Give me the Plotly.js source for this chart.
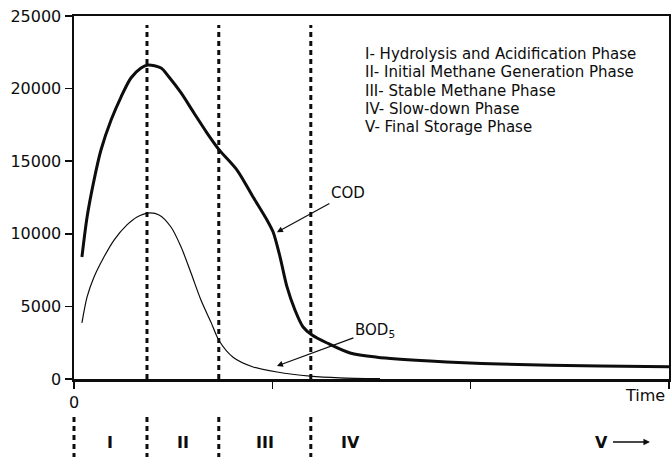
<!DOCTYPE html>
<html>
<head>
<meta charset="utf-8">
<script src="https://cdn.plot.ly/plotly-3.0.1.min.js"></script>
<style>html,body{margin:0;padding:0;background:#fff;}#chart{width:671px;height:457px;}</style>
</head>
<body>
<div id="chart"></div>
<script>
// ---- data (time in arbitrary units, concentration in mg/L) ----
var codX = [0.040, 0.066, 0.101, 0.136, 0.187, 0.237, 0.287, 0.338, 0.373, 0.439, 0.479, 0.540, 0.605, 0.671, 0.731, 0.822, 0.903, 0.973, 1.004, 1.039, 1.074, 1.114, 1.155, 1.200, 1.276, 1.392, 1.528, 1.795, 2.148, 2.653, 3.0];
var codY = [8400, 11160, 13700, 15770, 17840, 19420, 20730, 21420, 21630, 21420, 20800, 19700, 18320, 16940, 15800, 14390, 12530, 10950, 10120, 8400, 6340, 4750, 3580, 3030, 2480, 1790, 1500, 1240, 1030, 900, 850];
var bodX = [0.040, 0.066, 0.101, 0.151, 0.202, 0.267, 0.318, 0.373, 0.429, 0.489, 0.540, 0.590, 0.640, 0.691, 0.731, 0.802, 0.903, 1.024, 1.190, 1.341, 1.543];
var bodY = [3860, 5650, 7020, 8400, 9570, 10610, 11160, 11430, 11300, 10470, 9090, 7300, 5440, 3900, 2650, 1500, 830, 480, 200, 80, 20];
var phaseBounds = [0, 0.368, 0.730, 1.194];
var phaseNames = ["I", "II", "III", "IV", "V"];
var phaseLabelX = [0.184, 0.549, 0.962, 1.392, 2.663];
var phaseDescriptions = [
  "I- Hydrolysis and Acidification Phase",
  "II- Initial Methane Generation Phase",
  "III- Stable Methane Phase",
  "IV- Slow-down Phase",
  "V- Final Storage Phase"
];
var xMax = 3;
var xMinorTicks = [1, 2, 3];
var yTicks = [0, 5000, 10000, 15000, 20000, 25000];

var FONT = "DejaVu Sans, Liberation Sans, Arial, sans-serif";
var INK = "#0d0d0d";

var traces = [
  {x: codX, y: codY, type: "scatter", mode: "lines", name: "COD",
   line: {color: INK, width: 3, shape: "spline", smoothing: 0.8}, hoverinfo: "skip"},
  {x: bodX, y: bodY, type: "scatter", mode: "lines", name: "BOD5",
   line: {color: INK, width: 1.2, shape: "spline", smoothing: 0.8}, hoverinfo: "skip"}
];

var shapes = [];
// phase boundary dashed lines inside the plot
phaseBounds.slice(1).forEach(function (b) {
  shapes.push({type: "line", xref: "x", yref: "paper", x0: b, x1: b, y0: 0, y1: 0.975,
    line: {color: INK, width: 3, dash: "5px,4px"}});
});
// phase markers below the axis
phaseBounds.forEach(function (b) {
  shapes.push({type: "line", xref: "paper", yref: "paper", x0: b / xMax, x1: b / xMax, y0: -0.105, y1: -0.215,
    line: {color: INK, width: 3, dash: "5px,4px"}});
});

var annotations = [];
phaseDescriptions.forEach(function (t, i) {
  annotations.push({text: t, xref: "paper", yref: "paper", x: 0.4857, y: 0.895 - i * 0.0503,
    xanchor: "left", yanchor: "middle", showarrow: false,
    font: {family: FONT, size: 15, color: INK}});
});
phaseNames.forEach(function (t, i) {
  if (i < phaseNames.length - 1) {
    annotations.push({text: "<b>" + t + "</b>", xref: "paper", yref: "paper", x: phaseLabelX[i] / xMax, y: -0.1736,
      xanchor: "center", yanchor: "middle", showarrow: false,
      font: {family: FONT, size: 16, color: INK}});
  } else {
    // last phase label with its arrow pointing to the right
    annotations.push({text: "<b>" + t + "</b>", xref: "paper", yref: "paper", x: 0.968, y: -0.1736,
      ax: -48, ay: 0, borderpad: 4, showarrow: true, arrowhead: 2, arrowsize: 1, arrowwidth: 1.3, arrowcolor: INK, standoff: 0,
      font: {family: FONT, size: 16, color: INK}});
  }
});
// curve labels
annotations.push({text: "COD", xref: "x", yref: "y", x: 1.023, y: 10100, ax: 71, ay: -39,
  showarrow: true, arrowhead: 2, arrowsize: 1, arrowwidth: 1.2, arrowcolor: INK, standoff: 0,
  font: {family: FONT, size: 15, color: INK}});
annotations.push({text: "BOD<sub>5</sub>", xref: "x", yref: "y", x: 1.023, y: 895, ax: 98, ay: -36,
  showarrow: true, arrowhead: 2, arrowsize: 1, arrowwidth: 1.2, arrowcolor: INK, standoff: 0,
  font: {family: FONT, size: 15, color: INK}});
annotations.push({text: "Time", xref: "paper", yref: "paper", x: 0.996, y: -0.045,
  xanchor: "right", yanchor: "middle", showarrow: false,
  font: {family: FONT, size: 16, color: INK}});

var layout = {
  width: 671, height: 457,
  margin: {l: 74, r: 2, t: 16, b: 78, pad: 0},
  paper_bgcolor: "#fff", plot_bgcolor: "#fff",
  showlegend: false,
  font: {family: FONT, size: 15, color: INK},
  xaxis: {range: [0, xMax], tickvals: [0], ticktext: ["0"],
    ticks: "outside", ticklen: 7, tickwidth: 1.5, tickcolor: INK,
    minor: {tickvals: xMinorTicks, ticks: "outside", ticklen: 7, tickwidth: 1.5, tickcolor: INK, showgrid: false},
    showline: true, linewidth: 2.5, linecolor: INK, mirror: true,
    showgrid: false, zeroline: false, fixedrange: true,
    tickfont: {family: FONT, size: 16, color: INK}},
  yaxis: {range: [0, 25000], tickvals: yTicks, ticktext: yTicks.map(String),
    ticks: "outside", ticklen: 7, tickwidth: 1.5, tickcolor: INK,
    showline: true, linewidth: 2.5, linecolor: INK, mirror: true,
    showgrid: false, zeroline: false, fixedrange: true,
    tickfont: {family: FONT, size: 16, color: INK}},
  shapes: shapes,
  annotations: annotations
};

Plotly.newPlot("chart", traces, layout, {displayModeBar: false, staticPlot: true});
</script>
</body>
</html>
